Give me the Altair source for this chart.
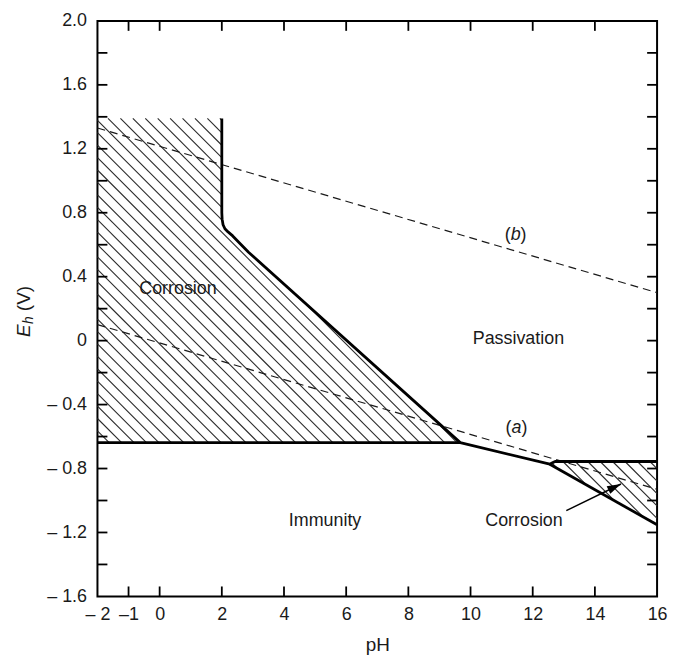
import math
import altair as alt
import pandas as pd

# ---------------- data ----------------
PH_MIN, PH_MAX = -2.0, 16.0
E_MIN, E_MAX = -1.6, 2.0
W, H = 563, 579

x_tick_values = [-2, -1, 0, 2, 4, 6, 8, 10, 12, 14, 16]
y_label_values = [-1.6, -1.2, -0.8, -0.4, 0.0, 0.4, 0.8, 1.2, 1.6, 2.0]
y_tick_values = [-1.4, -1.2, -1.0, -0.8, -0.6, -0.4, -0.2, 0.0, 0.2, 0.4,
                 0.6, 0.8, 1.0, 1.2, 1.4, 1.6, 1.8]
x_inner_ticks = [-1, 0, 2, 4, 6, 8, 10, 12, 14]

# thick boundary: vertical at pH 2, curve, slope down to triple point, on to the kink
bound_ph = [2.0, 2.0, 2.01, 2.04, 2.1, 2.2, 2.35, 2.6, 2.86, 9.67, 12.55, 12.62, 12.72, 16.0]
bound_e = [1.39, 0.80, 0.76, 0.725, 0.70, 0.68, 0.655, 0.605, 0.553, -0.638, -0.773, -0.765, -0.756, -0.756]

# bottom of the acid corrosion field
bottom_ph = [-2.0, 9.67]
bottom_e = [-0.638, -0.638]

# lower boundary of the alkaline corrosion field
lower_ph = [12.55, 16.0]
lower_e = [-0.773, -1.152]

# hatched regions (polygons)
left_poly_ph = [-2.0, 2.0, 2.0, 2.01, 2.04, 2.1, 2.2, 2.35, 2.6, 2.86, 9.67, -2.0]
left_poly_e = [1.39, 1.39, 0.80, 0.76, 0.725, 0.70, 0.68, 0.655, 0.605, 0.553, -0.638, -0.638]
right_poly_ph = [12.55, 12.62, 12.72, 16.0, 16.0]
right_poly_e = [-0.773, -0.765, -0.756, -0.756, -1.152]

# water lines (a) and (b), dashed
line_a_ph = [-2.0, 16.0]
line_a_e = [0.10, -0.93]
line_b_ph = [-2.0, 16.0]
line_b_e = [1.33, 0.30]

# region labels
label_text = ["Corrosion", "Passivation", "Immunity", "Corrosion"]
label_ph = [0.59, 11.54, 5.32, 11.72]
label_e = [0.32, 0.01, -1.13, -1.13]

# (a), (b) labels
letter_text = ["a", "b"]
letter_ph = [11.48, 11.45]
letter_e = [-0.549, 0.66]

# arrow from the right "Corrosion" label into the hatched field
arrow_tail = (13.08, -1.063)
arrow_tip = (14.84, -0.897)

FONT = "Liberation Sans"
INK = "#1a1a1a"

# ---------------- helpers ----------------
def to_px(ph, e):
    return (ph - PH_MIN) / (PH_MAX - PH_MIN) * W, (E_MAX - e) / (E_MAX - E_MIN) * H


def to_data(x, y):
    return x / W * (PH_MAX - PH_MIN) + PH_MIN, E_MAX - y / H * (E_MAX - E_MIN)


def hatch(poly_ph, poly_e, spacing=12.5):
    pts = [to_px(a, b) for a, b in zip(poly_ph, poly_e)]
    n = len(pts)
    cs = [y - x for x, y in pts]
    c = math.ceil(min(cs) / spacing) * spacing
    segs = []
    while c < max(cs):
        hits = []
        for i in range(n):
            x1, y1 = pts[i]
            x2, y2 = pts[(i + 1) % n]
            f1 = y1 - x1 - c
            f2 = y2 - x2 - c
            if (f1 < 0) != (f2 < 0):
                t = f1 / (f1 - f2)
                hits.append((x1 + t * (x2 - x1), y1 + t * (y2 - y1)))
        hits.sort()
        for k in range(0, len(hits) - 1, 2):
            a = to_data(*hits[k])
            b = to_data(*hits[k + 1])
            segs.append({"x": a[0], "y": a[1], "x2": b[0], "y2": b[1]})
        c += spacing
    return segs


xscale = alt.Scale(domain=[PH_MIN, PH_MAX], nice=False, zero=False)
yscale = alt.Scale(domain=[E_MIN, E_MAX], nice=False, zero=False)

xaxis = alt.Axis(
    values=x_tick_values, ticks=False, domain=False, grid=False,
    labelOverlap=False, labelBound=False, labelFlush=False,
    labelExpr="datum.value == -2 ? '\u2013 2' : datum.value == -1 ? '\u20131' : '' + datum.value",
    labelFont=FONT, labelFontSize=18, labelColor=INK, labelPadding=9,
    title="pH", titleFont=FONT, titleFontSize=19, titleFontWeight="normal",
    titleColor=INK, titlePadding=12,
)
yaxis = alt.Axis(
    values=y_label_values, ticks=False, domain=False, grid=False,
    labelOverlap=False, labelBound=False, labelFlush=False,
    labelExpr="datum.value == 0 ? '0' : datum.value < 0 ? '\u2013 ' + format(-datum.value, '.1f') : format(datum.value, '.1f')",
    labelFont=FONT, labelFontSize=18, labelColor=INK, labelPadding=11,
    title=None,
)

X = alt.X("x:Q", scale=xscale, axis=xaxis)
Y = alt.Y("y:Q", scale=yscale, axis=yaxis)

# ---------------- layers ----------------
hatch_df = pd.DataFrame(hatch(left_poly_ph, left_poly_e) + hatch(right_poly_ph, right_poly_e))
hatch_layer = alt.Chart(hatch_df).mark_rule(color="#2a2a2a", strokeWidth=1.1).encode(
    x=X, y=Y, x2="x2:Q", y2="y2:Q")

dash_df = pd.DataFrame({
    "x": line_a_ph + line_b_ph,
    "y": line_a_e + line_b_e,
    "line": ["a"] * 2 + ["b"] * 2,
})
dash_layer = alt.Chart(dash_df).mark_line(
    color=INK, strokeWidth=1.2, strokeDash=[8, 5]).encode(
    x=X, y=Y, detail="line:N")

thick_rows = []
for name, phs, es in [("main", bound_ph, bound_e), ("bottom", bottom_ph, bottom_e),
                      ("lower", lower_ph, lower_e)]:
    for i, (a, b) in enumerate(zip(phs, es)):
        thick_rows.append({"x": a, "y": b, "line": name, "o": i})
thick_df = pd.DataFrame(thick_rows)
thick_layer = alt.Chart(thick_df).mark_line(
    color="black", strokeWidth=2.8, strokeJoin="round", strokeCap="butt").encode(
    x=X, y=Y, detail="line:N", order="o:Q")

# inward ticks on all four sides
ty_df = pd.DataFrame({"y": y_tick_values})
tx_df = pd.DataFrame({"x": x_inner_ticks})
tick_style = dict(color="black", strokeWidth=1.8)
left_ticks = alt.Chart(ty_df).mark_rule(**tick_style).encode(
    y=Y, x=alt.value(0), x2=alt.value(10))
right_ticks = alt.Chart(ty_df).mark_rule(**tick_style).encode(
    y=Y, x=alt.value(W - 10), x2=alt.value(W))
bottom_ticks = alt.Chart(tx_df).mark_rule(**tick_style).encode(
    x=X, y=alt.value(H), y2=alt.value(H - 10))
top_ticks = alt.Chart(tx_df).mark_rule(**tick_style).encode(
    x=X, y=alt.value(0), y2=alt.value(10))

label_df = pd.DataFrame({"x": label_ph, "y": label_e, "t": label_text})
labels = alt.Chart(label_df).mark_text(
    font=FONT, fontSize=18, color=INK, align="center", baseline="middle").encode(
    x=X, y=Y, text="t:N")

letter_df = pd.DataFrame({"x": letter_ph, "y": letter_e, "t": letter_text})
letters = alt.Chart(letter_df).mark_text(
    font=FONT, fontSize=18, fontStyle="italic", color=INK, align="center",
    baseline="middle").encode(x=X, y=Y, text="t:N")
lparen = alt.Chart(letter_df).mark_text(
    font=FONT, fontSize=18, color=INK, align="right", baseline="middle", dx=-5).encode(
    x=X, y=Y, text=alt.value("("))
rparen = alt.Chart(letter_df).mark_text(
    font=FONT, fontSize=18, color=INK, align="left", baseline="middle", dx=5).encode(
    x=X, y=Y, text=alt.value(")"))

# arrow
arrow_df = pd.DataFrame({"x": [arrow_tail[0]], "y": [arrow_tail[1]],
                         "x2": [arrow_tip[0]], "y2": [arrow_tip[1]]})
shaft = alt.Chart(arrow_df).mark_rule(color="black", strokeWidth=1.5).encode(
    x=X, y=Y, x2="x2:Q", y2="y2:Q")
tx0, ty0 = to_px(*arrow_tail)
tx1, ty1 = to_px(*arrow_tip)
head_angle = math.degrees(math.atan2(tx1 - tx0, -(ty1 - ty0))) % 360
head_df = pd.DataFrame({"x": [arrow_tip[0]], "y": [arrow_tip[1]]})
head = alt.Chart(head_df).mark_point(
    shape="M0,0L-0.6,2L0.6,2Z", filled=True, fill="black", stroke=None,
    size=196, opacity=1, angle=head_angle).encode(x=X, y=Y)

# y-axis title: italic E with subscript h, then (V)
title_df = pd.DataFrame({"t": ["x"]})
t_E = alt.Chart(title_df).mark_text(
    font=FONT, fontSize=19, fontStyle="italic", color=INK, angle=270,
    align="left", baseline="middle").encode(
    x=alt.value(-74), y=alt.value(318), text=alt.value("E"))
t_h = alt.Chart(title_df).mark_text(
    font=FONT, fontSize=14, fontStyle="italic", color=INK, angle=270,
    align="left", baseline="middle").encode(
    x=alt.value(-69), y=alt.value(305), text=alt.value("h"))
t_V = alt.Chart(title_df).mark_text(
    font=FONT, fontSize=19, color=INK, angle=270,
    align="left", baseline="middle").encode(
    x=alt.value(-74), y=alt.value(292), text=alt.value("(V)"))

chart = alt.layer(
    hatch_layer, dash_layer, thick_layer,
    left_ticks, right_ticks, bottom_ticks, top_ticks,
    labels, letters, lparen, rparen, shaft, head,
    t_E, t_h, t_V,
).properties(
    width=W, height=H,
    autosize=alt.AutoSizeParams(type="none"),
    padding={"left": 90, "top": 11, "right": 12, "bottom": 64},
    background="white",
).configure_view(stroke="black", strokeWidth=2)

chart.save("out.html", embed_options={"renderer": "svg", "actions": False})
